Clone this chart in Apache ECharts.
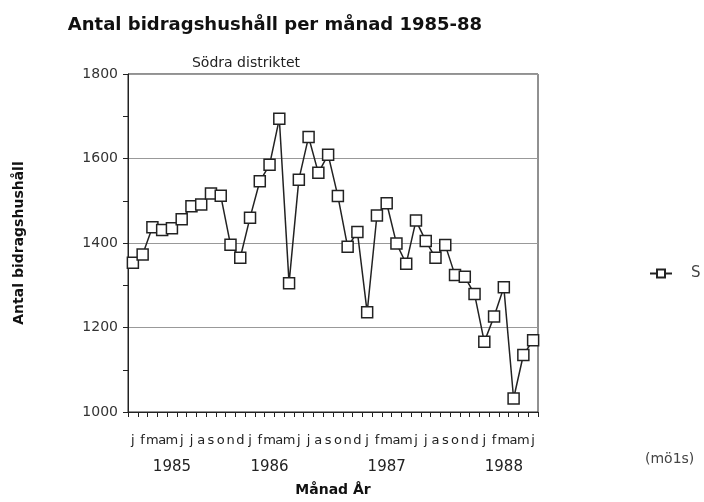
<!DOCTYPE html>
<html>
<head>
<meta charset="utf-8">
<script src="https://cdn.jsdelivr.net/npm/echarts@6/dist/echarts.min.js"></script>
<style>
  html, body { margin: 0; padding: 0; background: #fff; }
  #chart { width: 704px; height: 502px; }
</style>
</head>
<body>
<div id="chart"></div>
<script>
// månader jan 1985 - jun 1988
const monthLetters = ["j", "f", "m", "a", "m", "j", "j", "a", "s", "o", "n", "d"];
const months = [];
for (let i = 0; i < 42; i++) months.push(monthLetters[i % 12]);

// årtal under månadsraden (index -> text)
const yearLabels = { 4: "1985", 14: "1986", 26: "1987", 38: "1988" };

// antal bidragshushåll, Södra distriktet
const values = [
  1353, 1373, 1437, 1431, 1435, 1456, 1487, 1491, 1517, 1512, 1396, 1365,
  1460, 1546, 1585, 1694, 1305, 1550, 1651, 1566, 1609, 1511, 1391, 1426,
  1236, 1465, 1494, 1399, 1351, 1453, 1405, 1365, 1395, 1324, 1320, 1279,
  1166, 1226, 1295, 1032, 1135, 1170
];

const yTicks = { min: 1000, max: 1800, step: 200 };

const fontFam = "'DejaVu Sans', sans-serif";
const myChart = echarts.init(document.getElementById("chart"));

const option = {
  animation: false,
  title: [
    {
      text: "Antal bidragshushåll per månad 1985-88",
      left: 270, top: 11, textAlign: "center",
      textStyle: { fontFamily: fontFam, fontSize: 18, fontWeight: "bold", color: "#111" }
    },
    {
      text: "Södra distriktet",
      left: 241, top: 51, textAlign: "center",
      textStyle: { fontFamily: fontFam, fontSize: 14, fontWeight: "normal", color: "#222" }
    },
    {
      text: "(mö1s)",
      left: 640, top: 447,
      textStyle: { fontFamily: fontFam, fontSize: 14, fontWeight: "normal", color: "#444" }
    }
  ],
  legend: {
    left: 644, top: 261,
    itemWidth: 22, itemHeight: 10, itemGap: 6,
    textStyle: { fontFamily: fontFam, fontSize: 15, color: "#444", padding: [0, 0, 0, 14] },
    data: ["S"]
  },
  grid: {
    left: 128, right: 166, top: 74, bottom: 86,
    show: true, borderColor: "#222", borderWidth: 1
  },
  xAxis: [
    {
      type: "category",
      data: months,
      boundaryGap: true,
      name: "Månad År",
      nameLocation: "middle",
      nameGap: 71,
      nameTextStyle: { fontFamily: fontFam, fontSize: 14, fontWeight: "bold", color: "#111" },
      axisLine: { lineStyle: { color: "#222" } },
      axisTick: { show: true, length: 5, interval: 0, lineStyle: { color: "#222" } },
      axisLabel: {
        interval: 0, margin: 22,
        fontFamily: fontFam, fontSize: 13, color: "#222"
      },
      splitLine: { show: false }
    },
    {
      type: "category",
      data: months,
      position: "bottom",
      offset: 38,
      boundaryGap: true,
      axisLine: { show: false },
      axisTick: { show: false },
      axisLabel: {
        interval: 0, margin: 10,
        fontFamily: fontFam, fontSize: 15, color: "#222",
        formatter: (v, i) => yearLabels[i] || ""
      }
    }
  ],
  yAxis: {
    type: "value",
    min: yTicks.min, max: yTicks.max, interval: yTicks.step,
    name: "Antal bidragshushåll",
    nameLocation: "middle",
    nameGap: 102,
    nameTextStyle: { fontFamily: fontFam, fontSize: 14, fontWeight: "bold", color: "#111" },
    axisLine: { show: true, lineStyle: { color: "#222" } },
    axisTick: { show: true, length: 5, lineStyle: { color: "#222" } },
    minorTick: { show: true, splitNumber: 2, length: 5, lineStyle: { color: "#222" } },
    axisLabel: {
      fontFamily: fontFam, fontSize: 14, color: "#333", margin: 10,
      formatter: (v) => String(v)
    },
    splitLine: { show: true, lineStyle: { color: "#999", width: 1 } }
  },
  series: [
    {
      name: "S",
      type: "line",
      data: values,
      symbol: "rect",
      symbolSize: 11,
      lineStyle: { color: "#222", width: 1.5 },
      itemStyle: { color: "#fff", borderColor: "#222", borderWidth: 1.5 }
    }
  ]
};

myChart.setOption(option);
</script>
</body>
</html>
